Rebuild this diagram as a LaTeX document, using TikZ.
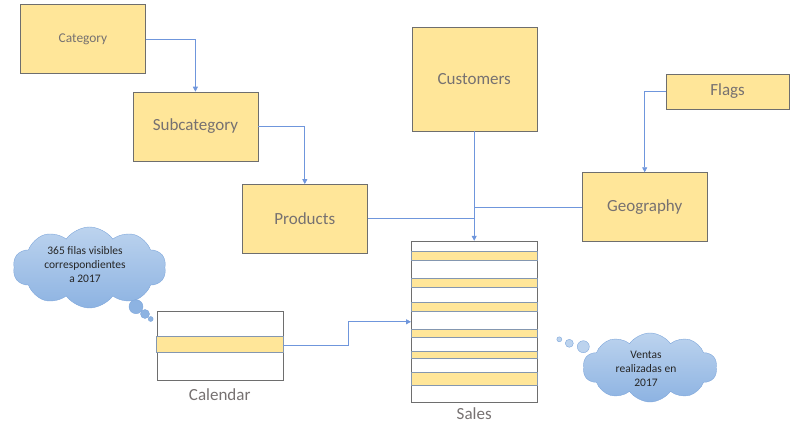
\documentclass[tikz,border=0pt]{standalone}
\usepackage{fontspec}
\setmainfont{Carlito}
\usetikzlibrary{positioning, calc, shapes.symbols, arrows.meta}

\definecolor{boxgold}{HTML}{FFE699}
\definecolor{boxgray}{HTML}{6E6E6E}
\definecolor{txtgray}{HTML}{767171}
\definecolor{stripeline}{HTML}{8497B0}
\definecolor{linkblue}{HTML}{6F96DC}
\definecolor{cloudline}{HTML}{7FA7DB}
\definecolor{cloudtop}{HTML}{BCD3EE}
\definecolor{cloudbot}{HTML}{8DB3E2}
\definecolor{cloudtext}{HTML}{262626}

\begin{document}
\begin{tikzpicture}[x=1pt, y=-1pt,
  dimbox/.style={draw=boxgray, fill=boxgold, rectangle, minimum width=125pt, minimum height=69pt, text=txtgray, font=\fontsize{17}{20}\selectfont},
  rows/.style={draw=boxgray, fill=white, rectangle, minimum width=126pt},
  stripe/.style={draw=stripeline, fill=boxgold},
  link/.style={draw=linkblue, line width=0.8pt, >={Triangle[length=5pt,width=5pt]}},
  thought/.style={cloud, cloud puffs=10, cloud puff arc=110, cloud ignores aspect, draw=cloudline, top color=cloudtop, bottom color=cloudbot, inner sep=0pt},
  notetext/.style={text=cloudtext, align=center, inner sep=0pt, font=\fontsize{11.5}{14}\selectfont},
  tabname/.style={text=txtgray, inner sep=0pt, font=\fontsize{17}{20}\selectfont}]
\useasboundingbox (0,0) rectangle (800,427);

% Dimension tables
\node (category) [dimbox, font=\fontsize{13.4}{16}\selectfont] at (83,39) {Category};
\node (subcategory) [dimbox, below right=18pt and -13pt of category] {Subcategory};
\node (products) [dimbox, below right=23pt and -16pt of subcategory] {Products};
\node (customers) [dimbox, minimum height=104pt, above right=53pt and 44pt of products] {Customers};
\node (flags) [dimbox, minimum width=123pt, minimum height=35pt, below right=47pt and 129pt of customers.north east] {Flags};
\node (geography) [dimbox] at (644.7,207) {Geography};

% Fact table and calendar with their visible rows
\node (sales) [rows, minimum height=161.6pt, below=109.7pt of customers] {};
\node (calendar) [rows, minimum height=69.3pt] at (219.7,345.7) {};
\foreach \a/\b in {10/19.3, 37.6/46.6, 61/70.3, 88.3/96, 110.3/117.6, 131.6/144.3}
  \draw[stripe] ($(sales.north west)+(0,\a)$) rectangle ($(sales.north east)+(0,\b)$);
\draw[stripe] ($(calendar.north west)+(0,25.3)$) rectangle ($(calendar.north east)+(0,41.3)$);
\node (salesname) [tabname, below=5pt of sales] {Sales};
\node (calendarname) [tabname, below=8pt of calendar] {Calendar};

% Relationships
\coordinate (joinprod) at (customers.south |- products.east);
\coordinate (joingeo) at (customers.south |- geography.west);
\draw[link, ->] (category.east) -| (subcategory.north);
\draw[link, ->] (subcategory.east) -| (products.north);
\draw[link, ->] (flags.west) -| (geography.north);
\draw[link, ->] (customers.south) -- (sales.north);
\draw[link] (products.east) -- (joinprod);
\draw[link] (geography.west) -- (joingeo);
\draw[link, ->] (calendar.east) -- ++(65,0) |- (sales.west);

% Notes
\node (yearnote) [thought, minimum width=153pt, minimum height=81pt] at (89.5,267.5) {};
\node (yeartext) [notetext] at (85,265) {365 filas visibles\\correspondientes\\a 2017};
\fill[cloudbot, draw=cloudline] (136,306.7) circle (7);
\fill[cloudbot, draw=cloudline] (145,314) circle (4.5);
\fill[cloudbot, draw=cloudline] (150.7,319) circle (2.5);
\node (salesnote) [thought, minimum width=134pt, minimum height=69pt] at (650,367.5) {};
\node (salestext) [notetext] at (646,369) {Ventas\\realizadas en\\2017};
\fill[cloudtop, draw=cloudline] (583.3,346.7) circle (6);
\fill[cloudtop, draw=cloudline] (569.3,343.3) circle (4);
\fill[cloudtop, draw=cloudline] (559.3,339.3) circle (2.5);
\end{tikzpicture}
\end{document}
